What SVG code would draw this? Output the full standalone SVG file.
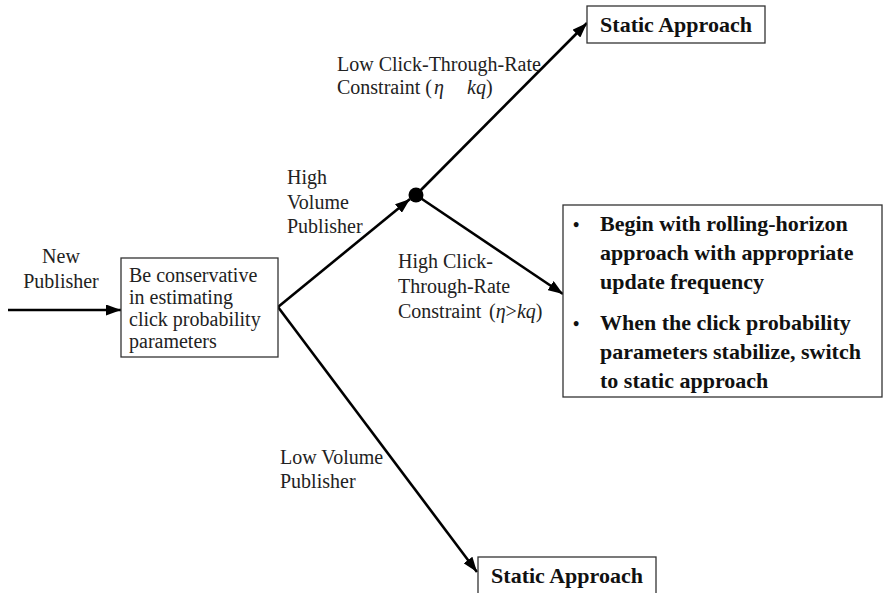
<svg xmlns="http://www.w3.org/2000/svg" width="883" height="593" viewBox="0 0 883 593">
<style>
.box{fill:#fff;stroke:#333;stroke-width:1.3}
.t{font-family:"Liberation Serif","Times New Roman",serif;font-size:20px;fill:#222}
.b{font-family:"Liberation Serif","Times New Roman",serif;font-weight:bold;fill:#111}
.e{fill:none;stroke:#000;stroke-width:2.6}
</style>
<defs>
<marker id="ah" markerUnits="userSpaceOnUse" markerWidth="15" markerHeight="11" refX="15" refY="5.5" orient="auto">
<path d="M0,0 L15,5.5 L0,11 z" fill="#000"/>
</marker>
</defs>
<g id="connectors">
<line class="e" x1="8" y1="310" x2="121" y2="310" marker-end="url(#ah)"/>
<line class="e" x1="278" y1="307" x2="410" y2="199" marker-end="url(#ah)"/>
<line class="e" x1="416" y1="195" x2="587" y2="23" marker-end="url(#ah)"/>
<line class="e" x1="416" y1="195" x2="563" y2="294" marker-end="url(#ah)"/>
<line class="e" x1="278" y1="307" x2="477" y2="572" marker-end="url(#ah)"/>
<circle cx="416" cy="195" r="7.5" fill="#000"/>
</g>
<g id="labels">
<text class="t" text-anchor="middle"><tspan x="61" y="263">New</tspan><tspan x="61" y="288">Publisher</tspan></text>
<text class="t"><tspan x="287" y="184">High</tspan><tspan x="287" y="209">Volume</tspan><tspan x="287" y="233">Publisher</tspan></text>
<text class="t"><tspan x="280" y="464">Low Volume</tspan><tspan x="280" y="488">Publisher</tspan></text>
<text class="t"><tspan x="337" y="71">Low Click-Through-Rate</tspan><tspan x="337" y="94">Constraint (</tspan><tspan dx="2" font-style="italic">η</tspan><tspan x="467" y="94" font-style="italic">kq</tspan><tspan>)</tspan></text>
<text class="t"><tspan x="398" y="268">High Click-</tspan><tspan x="398" y="293">Through-Rate</tspan><tspan x="398" y="318">Constraint</tspan><tspan x="489" y="318">(</tspan><tspan font-style="italic">η</tspan><tspan>&gt;</tspan><tspan font-style="italic">kq</tspan><tspan>)</tspan></text>
</g>
<g id="start">
<rect class="box" x="121" y="258" width="157" height="99"/>
<text class="t"><tspan x="129" y="282">Be conservative</tspan><tspan x="129" y="304">in estimating</tspan><tspan x="129" y="326">click probability</tspan><tspan x="129" y="348">parameters</tspan></text>
</g>
<g id="static-top">
<rect class="box" x="587" y="6" width="178" height="37"/>
<text class="b" font-size="22" x="676" y="32" text-anchor="middle">Static Approach</text>
</g>
<g id="rolling">
<rect class="box" x="563" y="205" width="319" height="192"/>
<g class="b" font-size="22">
<text x="573" y="231" font-size="18">•</text>
<text x="600" y="231">Begin with rolling-horizon</text>
<text x="600" y="260">approach with appropriate</text>
<text x="600" y="289">update frequency</text>
<text x="573" y="330" font-size="18">•</text>
<text x="600" y="330">When the click probability</text>
<text x="600" y="359">parameters stabilize, switch</text>
<text x="600" y="388">to static approach</text>
</g>
</g>
<g id="static-bottom">
<rect class="box" x="478" y="557" width="178" height="50"/>
<text class="b" font-size="22" x="567" y="583" text-anchor="middle">Static Approach</text>
</g>
</svg>
